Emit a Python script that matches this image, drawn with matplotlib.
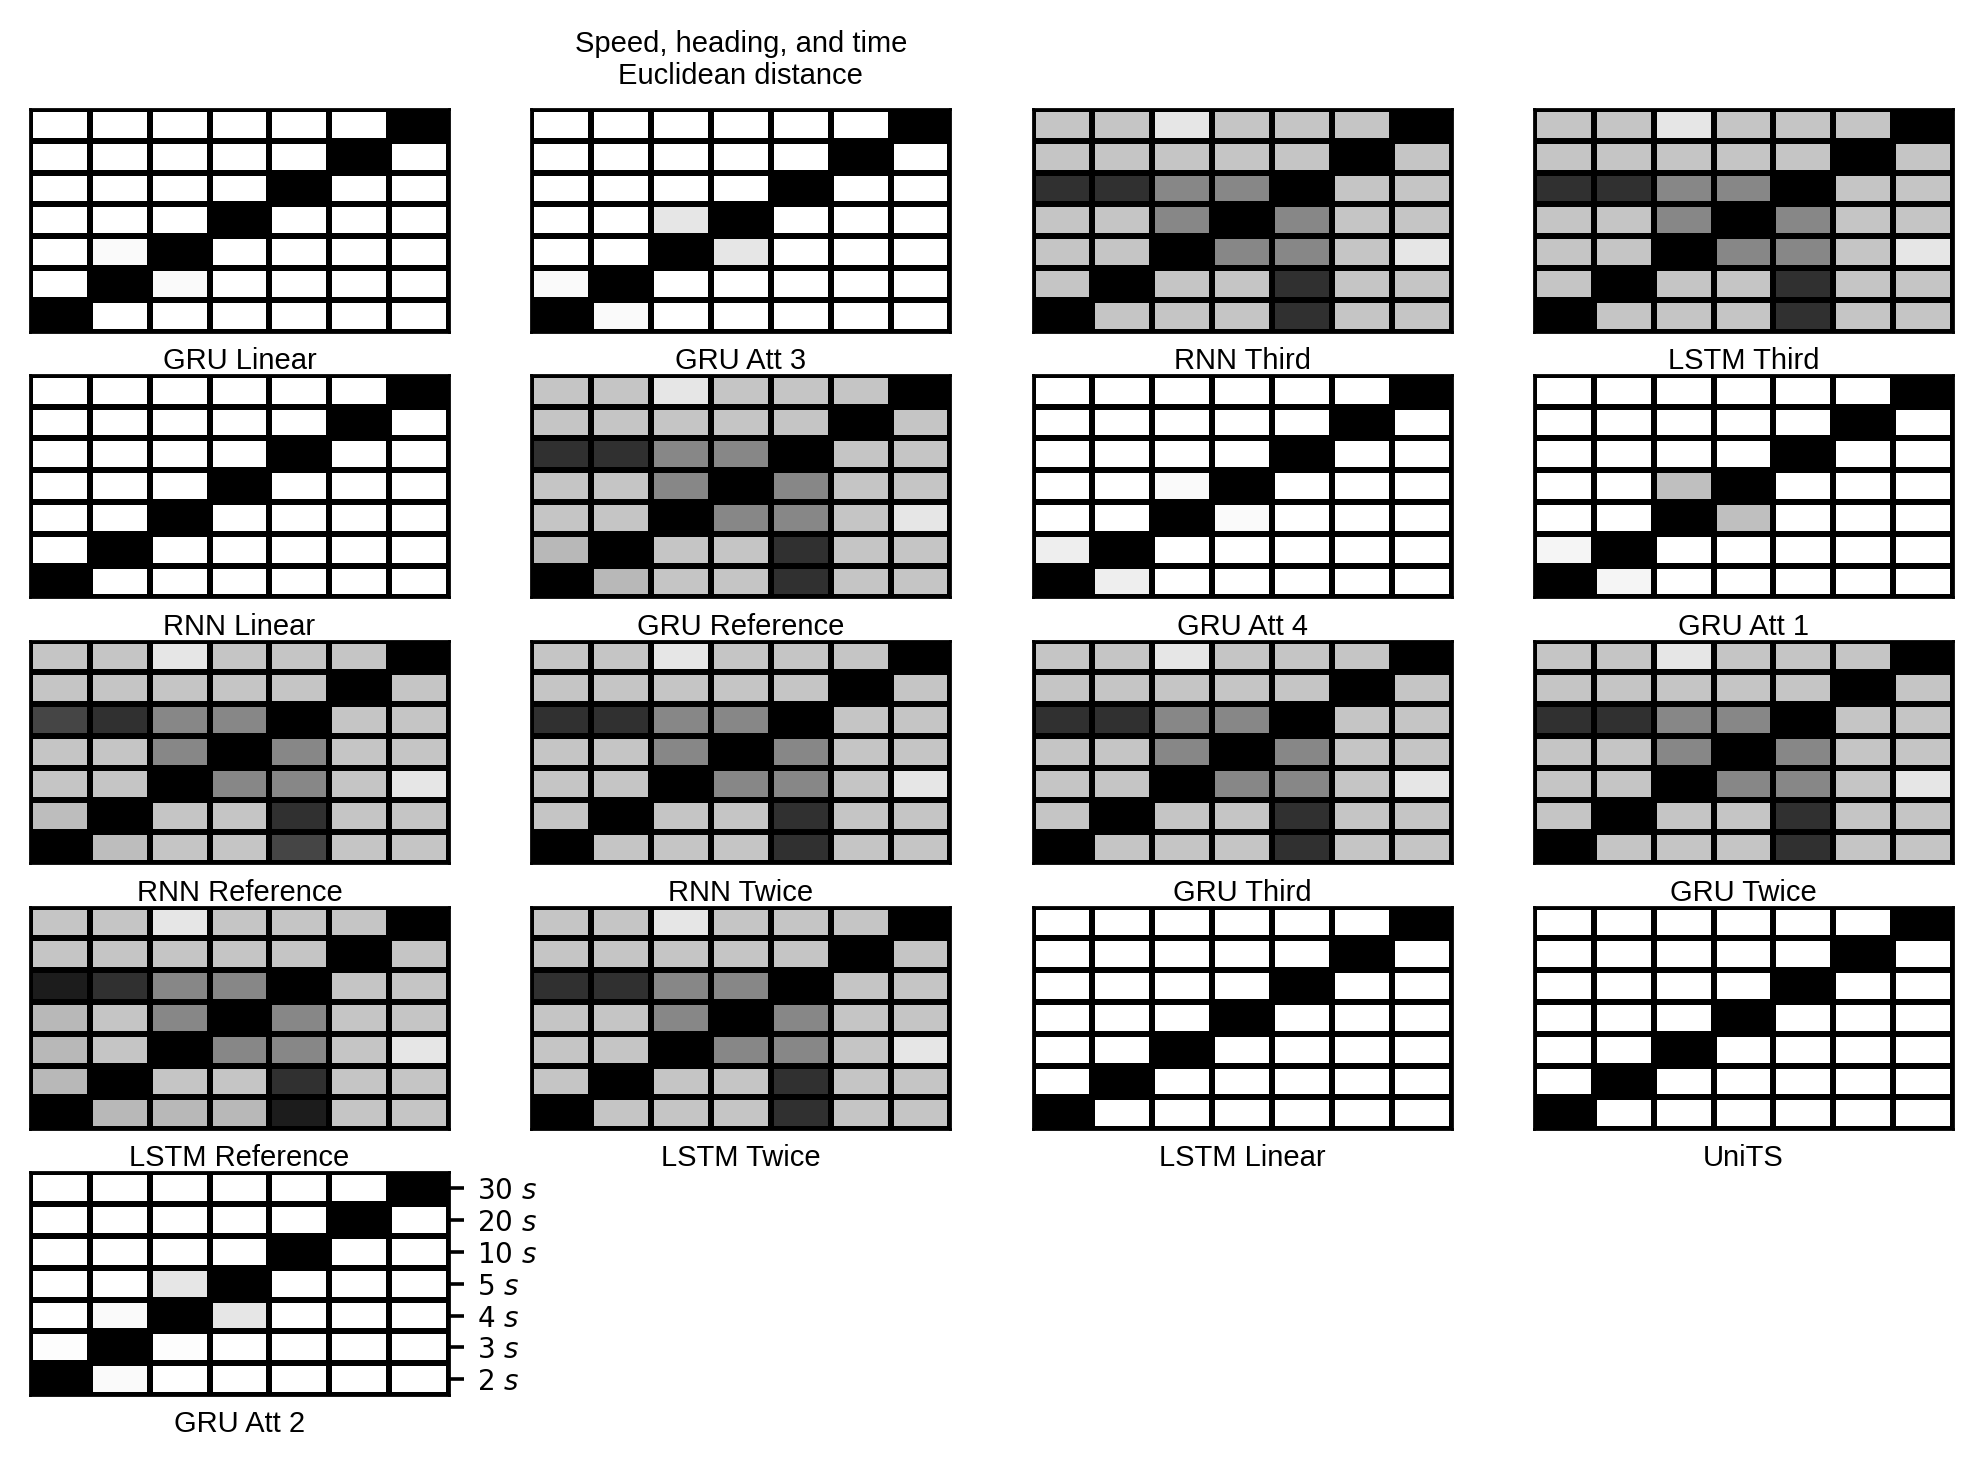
import matplotlib
matplotlib.use("Agg")
import matplotlib.pyplot as plt
import numpy as np

# darkness of each cell (0 = white, 1 = black), rows top (30 s) to bottom (2 s)
shared = [
    [0.23, 0.23, 0.10, 0.23, 0.23, 0.23, 1.00],
    [0.23, 0.23, 0.23, 0.23, 0.23, 1.00, 0.23],
    [0.81, 0.81, 0.47, 0.47, 1.00, 0.23, 0.23],
    [0.23, 0.23, 0.47, 1.00, 0.47, 0.23, 0.23],
    [0.23, 0.23, 1.00, 0.47, 0.47, 0.23, 0.10],
    [0.23, 1.00, 0.23, 0.23, 0.81, 0.23, 0.23],
    [1.00, 0.23, 0.23, 0.23, 0.81, 0.23, 0.23],
]
gru_reference = [
    [0.23, 0.23, 0.10, 0.23, 0.23, 0.23, 1.00],
    [0.23, 0.23, 0.23, 0.23, 0.23, 1.00, 0.23],
    [0.81, 0.81, 0.47, 0.47, 1.00, 0.23, 0.23],
    [0.23, 0.23, 0.47, 1.00, 0.47, 0.23, 0.23],
    [0.23, 0.23, 1.00, 0.47, 0.47, 0.23, 0.10],
    [0.28, 1.00, 0.23, 0.23, 0.81, 0.23, 0.23],
    [1.00, 0.28, 0.23, 0.23, 0.81, 0.23, 0.23],
]
rnn_reference = [
    [0.23, 0.23, 0.10, 0.23, 0.23, 0.23, 1.00],
    [0.23, 0.23, 0.23, 0.23, 0.23, 1.00, 0.23],
    [0.73, 0.81, 0.47, 0.47, 1.00, 0.23, 0.23],
    [0.23, 0.23, 0.47, 1.00, 0.47, 0.23, 0.23],
    [0.23, 0.23, 1.00, 0.47, 0.47, 0.23, 0.10],
    [0.26, 1.00, 0.23, 0.23, 0.81, 0.23, 0.23],
    [1.00, 0.26, 0.23, 0.23, 0.73, 0.23, 0.23],
]
lstm_reference = [
    [0.23, 0.23, 0.10, 0.23, 0.23, 0.23, 1.00],
    [0.23, 0.23, 0.23, 0.23, 0.23, 1.00, 0.23],
    [0.89, 0.81, 0.47, 0.47, 1.00, 0.23, 0.23],
    [0.28, 0.23, 0.47, 1.00, 0.47, 0.23, 0.23],
    [0.28, 0.23, 1.00, 0.47, 0.47, 0.23, 0.10],
    [0.28, 1.00, 0.23, 0.23, 0.81, 0.23, 0.23],
    [1.00, 0.28, 0.28, 0.28, 0.89, 0.23, 0.23],
]
plain = [
    [0, 0, 0, 0, 0, 0, 1],
    [0, 0, 0, 0, 0, 1, 0],
    [0, 0, 0, 0, 1, 0, 0],
    [0, 0, 0, 1, 0, 0, 0],
    [0, 0, 1, 0, 0, 0, 0],
    [0, 1, 0, 0, 0, 0, 0],
    [1, 0, 0, 0, 0, 0, 0],
]
gru_linear = [
    [0, 0, 0, 0, 0, 0, 1],
    [0, 0, 0, 0, 0, 1, 0],
    [0, 0, 0, 0, 1, 0, 0],
    [0, 0, 0, 1, 0, 0, 0],
    [0, 0.02, 1, 0, 0, 0, 0],
    [0, 1, 0.02, 0, 0, 0, 0],
    [1, 0, 0, 0, 0, 0, 0],
]
gru_att3 = [
    [0, 0, 0, 0, 0, 0, 1],
    [0, 0, 0, 0, 0, 1, 0],
    [0, 0, 0, 0, 1, 0, 0],
    [0, 0, 0.10, 1, 0, 0, 0],
    [0, 0, 1, 0.10, 0, 0, 0],
    [0.02, 1, 0, 0, 0, 0, 0],
    [1, 0.02, 0, 0, 0, 0, 0],
]
gru_att4 = [
    [0, 0, 0, 0, 0, 0, 1],
    [0, 0, 0, 0, 0, 1, 0],
    [0, 0, 0, 0, 1, 0, 0],
    [0, 0, 0.02, 1, 0, 0, 0],
    [0, 0, 1, 0.02, 0, 0, 0],
    [0.07, 1, 0, 0, 0, 0, 0],
    [1, 0.07, 0, 0, 0, 0, 0],
]
gru_att1 = [
    [0, 0, 0, 0, 0, 0, 1],
    [0, 0, 0, 0, 0, 1, 0],
    [0, 0, 0, 0, 1, 0, 0],
    [0, 0, 0.25, 1, 0, 0, 0],
    [0, 0, 1, 0.25, 0, 0, 0],
    [0.04, 1, 0, 0, 0, 0, 0],
    [1, 0.04, 0, 0, 0, 0, 0],
]
gru_att2 = [
    [0, 0, 0, 0, 0, 0, 1],
    [0, 0, 0, 0, 0, 1, 0],
    [0, 0, 0, 0, 1, 0, 0],
    [0, 0, 0.10, 1, 0, 0, 0],
    [0, 0.02, 1, 0.10, 0, 0, 0],
    [0.01, 1, 0.01, 0, 0, 0, 0],
    [1, 0.02, 0, 0, 0, 0, 0],
]

names = [
    "GRU Linear", "GRU Att 3", "RNN Third", "LSTM Third",
    "RNN Linear", "GRU Reference", "GRU Att 4", "GRU Att 1",
    "RNN Reference", "RNN Twice", "GRU Third", "GRU Twice",
    "LSTM Reference", "LSTM Twice", "LSTM Linear", "UniTS",
    "GRU Att 2",
]
matrices = [
    gru_linear, gru_att3, shared, shared,
    plain, gru_reference, gru_att4, gru_att1,
    rnn_reference, shared, shared, shared,
    lstm_reference, shared, plain, plain,
    gru_att2,
]
horizons = ["30", "20", "10", "5", "4", "3", "2"]
title = "Speed, heading, and time\nEuclidean distance"

label_font = dict(family="Liberation Sans", size=10.5)

fig = plt.figure(figsize=(9.91, 7.35), dpi=200)
gs = fig.add_gridspec(5, 4, left=0.0151, right=0.9854, top=0.9259,
                      bottom=0.051, wspace=0.196, hspace=0.194)

for k, (name, mat) in enumerate(zip(names, matrices)):
    ax = fig.add_subplot(gs[k // 4, k % 4])
    ax.pcolormesh(np.array(mat, dtype=float), cmap="gray_r", vmin=0, vmax=1,
                  edgecolors="black", linewidth=2.0)
    ax.set_xlim(0, 7)
    ax.set_ylim(7, 0)
    for sp in ax.spines.values():
        sp.set_color("black")
        sp.set_linewidth(1.0)
    ax.set_xticks([])
    ax.set_xlabel(name, labelpad=5.5, **label_font)
    if k == len(names) - 1:
        ax.yaxis.tick_right()
        ax.set_yticks(np.arange(7) + 0.5)
        ax.set_yticklabels([h + r" $s$" for h in horizons], fontsize=10)
        ax.tick_params(axis="y", length=5.5, width=1.3, pad=4.5)
    else:
        ax.set_yticks([])
    if k == 1:
        ax.set_title(title, pad=9, linespacing=1.2, **label_font)

fig.savefig("out.png", dpi=200)
